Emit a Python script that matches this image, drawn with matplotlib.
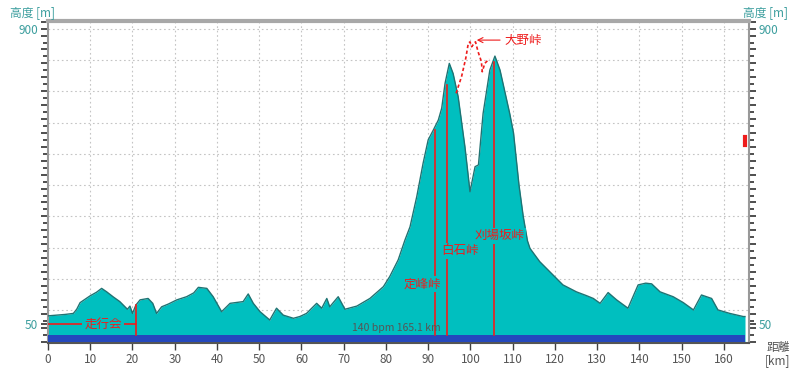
import matplotlib
matplotlib.use('Agg')
import matplotlib.pyplot as plt
import numpy as np
from matplotlib.ticker import FixedLocator, FuncFormatter, MultipleLocator

plt.rcParams['font.family'] = ['Noto Sans CJK JP', 'DejaVu Sans']

# 距離 [km] / 高度 [m]
dist = [0, 2, 4, 6, 6.8, 7.6, 9.9, 11.5, 12.7, 13.9, 15.5, 17.0, 18.8, 19.4, 20.0,
        20.8, 21.8, 23.7, 24.8, 25.7, 26.9, 28.5, 30.5, 32.8, 34.5, 35.6, 37.6,
        39.1, 41.1, 43.1, 46.2, 47.4, 48.6, 50.2, 52.5, 54.1, 55.7, 58.1, 59.6,
        61.2, 63.6, 64.8, 66.0, 66.7, 68.7, 70.3, 73.1, 76.2, 79.4, 80.9, 82.9,
        84.5, 85.7, 87.3, 88.8, 90.0, 91.2, 92.4, 93.2, 94.0, 95.0, 95.9, 97.1,
        98.7, 99.9, 101.1, 101.9, 103.0, 104.6, 105.8, 107.0, 109.3, 110.2,
        111.5, 112.5, 113.5, 114.1, 116.4, 119.6, 121.9, 125.1, 127.5, 129.1,
        130.7, 132.6, 134.6, 137.3, 139.7, 141.5, 142.9, 144.9, 148.0, 150.4,
        152.8, 154.7, 157.1, 158.6, 161.4, 164.6, 165.0]
elev = [74, 76, 78, 81, 93, 112, 131, 142, 153, 143, 128, 115, 93, 102, 81,
        105, 120, 124, 110, 81, 100, 108, 120, 129, 140, 156, 153,
        129, 86, 110, 115, 137, 110, 86, 62, 96, 76, 67, 72,
        81, 110, 96, 124, 100, 129, 93, 102, 124, 158, 187, 235,
        292, 330, 417, 513, 580, 608, 637, 671, 743, 800, 771, 704,
        560, 431, 503, 508, 656, 781, 821, 781, 656, 600,
        450, 360, 290, 268, 230, 191, 163, 143, 132, 124,
        110, 141, 120, 96, 163, 168, 166, 143, 129, 112,
        91, 134, 124, 91, 81, 72, 72]

# 大野峠 経由 (破線)
ono_dist = [96.6, 97.9, 98.9, 99.5, 99.9, 100.3, 100.9, 101.2, 101.8, 102.6,
            102.8, 103.4, 103.8, 104.5]
ono_elev = [714, 762, 815, 858, 862, 848, 858, 862, 834, 805, 776, 800, 805, 812]

pass_names = ['定峰峠', '白石峠', '刈場坂峠']
pass_dist = [91.7, 94.5, 105.6]
pass_top = [608, 738, 805]
pass_label_x = [88.5, 97.5, 107.0]
pass_label_y = [166, 261, 304]

hr_level = 19
hr_text = '140 bpm 165.1 km'
y_labels = [50, 900]

TEAL = '#00bfbf'
EDGE = '#1f7373'
BLUE = '#2448bd'
RED = '#ee1c1c'
LBL = '#3c9e9e'

fig = plt.figure(figsize=(8, 3.68), dpi=100)
ax = fig.add_axes([0.06, 0.068, 0.876, 0.875])
ax.set_xlim(0, 165.9)
ax.set_ylim(-4, 922)

for g in np.arange(90, 901, 90):
    ax.axhline(g, color='#c4c4c4', lw=0.8, ls=(0, (1.5, 2.5)), zorder=1)
for g in range(10, 161, 10):
    ax.axvline(g, color='#c4c4c4', lw=0.8, ls=(0, (1.5, 2.5)), zorder=1)

ax.fill_between(dist, 0, elev, color=TEAL, lw=0, zorder=2)
ax.plot(dist, elev, color=EDGE, lw=1, zorder=3)
ax.fill_between([0, dist[-1]], 0, hr_level, color=BLUE, lw=0, zorder=4)

# 走行会
ax.plot([20.8, 20.8], [20, 105], color=RED, lw=1.2, zorder=5)
ax.plot([0, 20.8], [50, 50], color=RED, lw=1.2, zorder=5)
ax.text(13.0, 50, '走行会', color=RED, fontsize=9, ha='center', va='center', zorder=6,
        bbox=dict(facecolor=TEAL, edgecolor='none', pad=1.5))

for name, d, top, lx, ly in zip(pass_names, pass_dist, pass_top, pass_label_x, pass_label_y):
    ax.plot([d, d], [20, top], color=RED, lw=1.2, zorder=5)
    ax.text(lx, ly, name, color=RED, fontsize=9, ha='center', va='center', zorder=6,
            bbox=dict(facecolor=TEAL, edgecolor='none', pad=1))

ax.plot(ono_dist, ono_elev, color=RED, lw=1.2, ls=(0, (2, 1.5)), zorder=5)
ax.annotate('大野峠', xy=(101.5, 867), xytext=(108.0, 867), color=RED, fontsize=9,
            va='center', ha='left', zorder=6,
            arrowprops=dict(arrowstyle='->', color=RED, lw=0.8, shrinkA=1, shrinkB=0))

ax.text(72.0, 38, hr_text, color='#555555', fontsize=7.5, ha='left', va='center', zorder=6)
ax.plot([165.0, 165.0], [565, 588], color=RED, lw=3, zorder=6, clip_on=False)

# 軸
ax.xaxis.set_major_locator(MultipleLocator(10))
ax.tick_params(axis='x', direction='out', length=5, width=1, color='#404040',
               labelcolor='#555555', labelsize=8.5, pad=2)
major_y = sorted(set(list(range(0, 921, 40)) + y_labels))
ax.yaxis.set_major_locator(FixedLocator(major_y))
ax.yaxis.set_minor_locator(MultipleLocator(20))
ax.yaxis.set_major_formatter(FuncFormatter(lambda v, p: str(int(v)) if int(v) in y_labels else ''))
ax.tick_params(axis='y', which='both', direction='out', left=True, right=True,
               labelleft=True, labelright=True, color='#303030', width=1.2)
ax.tick_params(axis='y', which='major', length=5, labelcolor=LBL, labelsize=8.5, pad=2)
ax.tick_params(axis='y', which='minor', length=3.5)

ax.spines['top'].set_color('#a8a8a8')
ax.spines['top'].set_linewidth(3)
ax.spines['left'].set_color('#999999')
ax.spines['right'].set_color('#999999')
ax.spines['left'].set_linewidth(1.5)
ax.spines['right'].set_linewidth(1.5)
ax.spines['bottom'].set_color('#555555')
ax.spines['bottom'].set_linewidth(1.5)

fig.text(10 / 800, 1 - 12.5 / 368, '高度 [m]', color=LBL, fontsize=8.5, ha='left', va='center')
fig.text(788 / 800, 1 - 12.5 / 368, '高度 [m]', color=LBL, fontsize=8.5, ha='right', va='center')
fig.text(778 / 800, 1 - 347 / 368, '距離', color='#555555', fontsize=8.5, ha='center', va='center')
fig.text(778 / 800, 1 - 361 / 368, '[km]', color='#555555', fontsize=8.5, ha='center', va='center')

fig.savefig('out.png', dpi=100)
